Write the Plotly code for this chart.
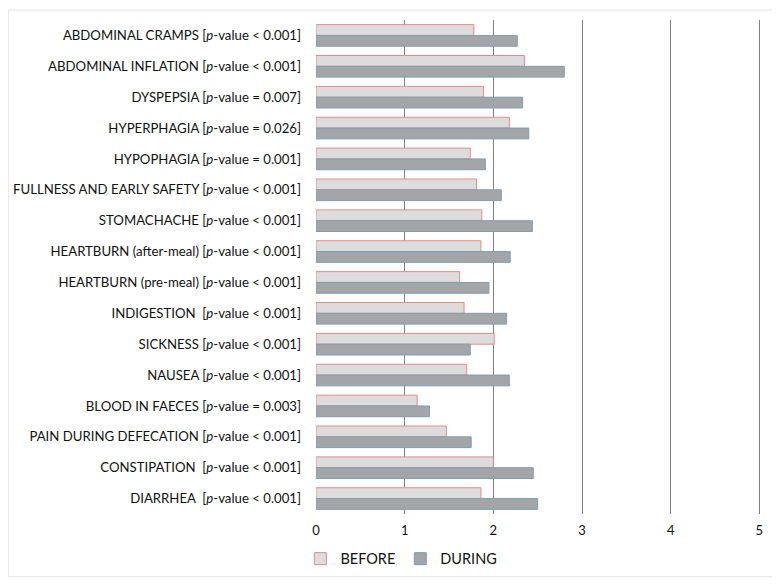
import plotly.graph_objects as go

# Data (mean symptom scores)
symptoms = ['ABDOMINAL CRAMPS [<i>p</i>-value < 0.001]',
            'ABDOMINAL INFLATION [<i>p</i>-value < 0.001]',
            'DYSPEPSIA [<i>p</i>-value = 0.007]',
            'HYPERPHAGIA [<i>p</i>-value = 0.026]',
            'HYPOPHAGIA [<i>p</i>-value = 0.001]',
            'FULLNESS AND EARLY SAFETY [<i>p</i>-value < 0.001]',
            'STOMACHACHE [<i>p</i>-value < 0.001]',
            'HEARTBURN (after-meal) [<i>p</i>-value < 0.001]',
            'HEARTBURN (pre-meal) [<i>p</i>-value < 0.001]',
            'INDIGESTION  [<i>p</i>-value < 0.001]',
            'SICKNESS [<i>p</i>-value < 0.001]',
            'NAUSEA [<i>p</i>-value < 0.001]',
            'BLOOD IN FAECES [<i>p</i>-value = 0.003]',
            'PAIN DURING DEFECATION [<i>p</i>-value < 0.001]',
            'CONSTIPATION  [<i>p</i>-value < 0.001]',
            'DIARRHEA  [<i>p</i>-value < 0.001]']
before = [1.78, 2.35, 1.89, 2.18, 1.74, 1.81, 1.87, 1.86,
          1.62, 1.67, 2.01, 1.70, 1.14, 1.47, 2.00, 1.86]
during = [2.27, 2.80, 2.33, 2.40, 1.91, 2.09, 2.44, 2.19,
          1.95, 2.15, 1.74, 2.18, 1.28, 1.75, 2.45, 2.50]
x_ticks = [0, 1, 2, 3, 4, 5]

font = 'Lato, "Open Sans", sans-serif'

fig = go.Figure()
fig.add_trace(go.Bar(y=symptoms, x=before, name='BEFORE', orientation='h',
                     marker=dict(color='#dcdcdc',
                                 line=dict(color='#e58a8a', width=1))))
fig.add_trace(go.Bar(y=symptoms, x=during, name='DURING', orientation='h',
                     marker=dict(color='#a3a5a8',
                                 line=dict(color='#7f9db3', width=1))))

# page body has an 8px margin, so the figure is a bit smaller than the window
fig.update_layout(
    width=772, height=578,
    template='plotly_white',
    plot_bgcolor='white', paper_bgcolor='white',
    barmode='group', bargap=0.3, bargroupgap=0,
    margin=dict(l=308, r=18, t=12, b=71),
    font=dict(family=font, size=13, color='#111111'),
    hovermode=False,
    legend=dict(orientation='h', x=-0.035, xanchor='left', y=-0.056,
                yanchor='top', font=dict(size=14.5), itemwidth=30,
                traceorder='normal'),
    xaxis=dict(range=[0, 5.03], tickvals=x_ticks, showgrid=True,
               gridcolor='#808080', gridwidth=1, zeroline=False,
               showline=False, ticks='', ticklabelstandoff=7,
               automargin=False, tickfont=dict(size=13)),
    yaxis=dict(autorange='reversed', showgrid=False, zeroline=False,
               showline=False, ticks='', ticklabelstandoff=14,
               automargin=False, tickfont=dict(size=13.2)),
    shapes=[dict(type='rect', xref='paper', yref='paper',
                 x0=-0.69, x1=1.025, y0=-0.127, y1=1.02,
                 line=dict(color='#e2e2e2', width=1), layer='below')],
)

fig.write_html('out.html')
